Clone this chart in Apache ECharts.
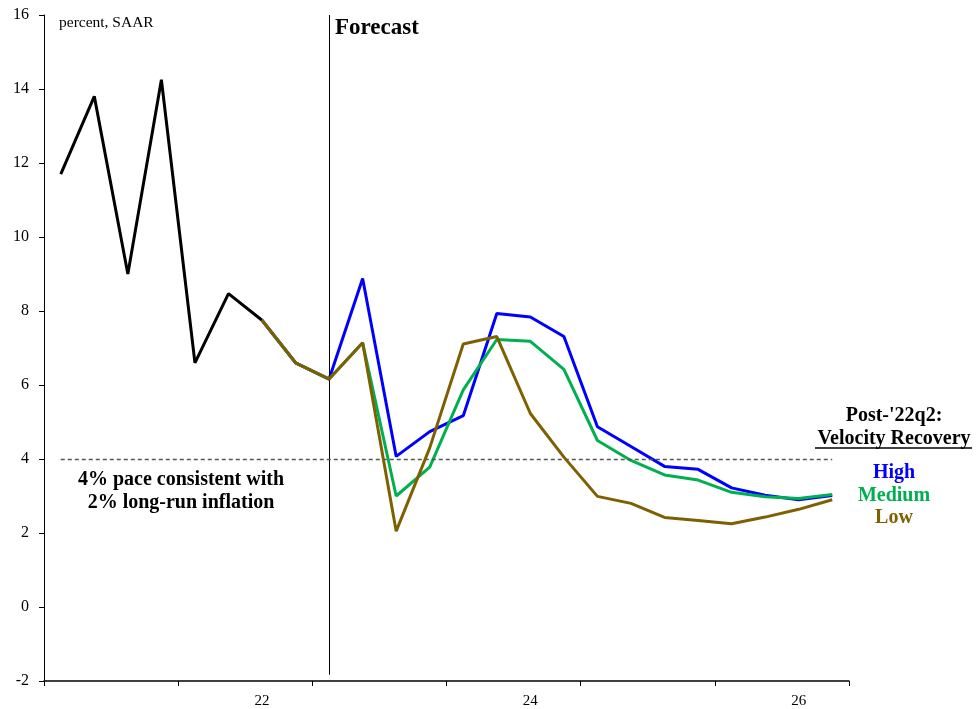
<!DOCTYPE html>
<html>
<head>
<meta charset="utf-8">
<script src="https://cdn.jsdelivr.net/npm/echarts@6/dist/echarts.min.js"></script>
<style>html,body{margin:0;padding:0;background:#fff}#c{width:979px;height:709px}</style>
</head>
<body>
<div id="c"></div>
<script>
var quarters = ['2020Q3','2020Q4','2021Q1','2021Q2','2021Q3','2021Q4','2022Q1','2022Q2','2022Q3','2022Q4',
  '2023Q1','2023Q2','2023Q3','2023Q4','2024Q1','2024Q2','2024Q3','2024Q4','2025Q1','2025Q2','2025Q3','2025Q4','2026Q1','2026Q2'];
var yearLabels = {'2022Q1':'22','2024Q1':'24','2026Q1':'26'};
var actual = [11.7,13.8,9.0,14.25,6.6,8.47,7.75,'-','-','-','-','-','-','-','-','-','-','-','-','-','-','-','-','-'];
var high   = ['-','-','-','-','-','-',7.75,6.6,6.16,8.88,4.07,4.74,5.17,7.93,7.84,7.31,4.87,4.34,3.8,3.72,3.22,3.02,2.9,3.01];
var medium = ['-','-','-','-','-','-',7.75,6.6,6.16,7.14,3.0,3.78,5.87,7.23,7.18,6.42,4.5,3.96,3.57,3.43,3.1,2.98,2.93,3.04];
var low    = ['-','-','-','-','-','-',7.75,6.6,6.16,7.14,2.05,4.3,7.11,7.31,5.23,4.05,2.99,2.8,2.42,2.34,2.25,2.43,2.64,2.9];
var paceLevel = 4;
var forecastStart = '2022Q3';

var serif = 'Liberation Serif';
var chart = echarts.init(document.getElementById('c'));
function label(x, y, text, color) {
  return {type: 'text', x: x, y: y, style: {text: text, fontFamily: serif, fontSize: 20, fontWeight: 'bold', fill: color || '#000', textAlign: 'center', textVerticalAlign: 'middle'}};
}
chart.setOption({
  animation: false,
  backgroundColor: '#fff',
  grid: {left: 44, right: 130, top: 15, bottom: 28},
  xAxis: {
    type: 'category', data: quarters, boundaryGap: true,
    axisLine: {onZero: false, lineStyle: {color: '#000', width: 1.5}},
    axisTick: {show: true, length: 5, lineStyle: {color: '#000'}, interval: function (i) { return i % 4 === 0; }},
    axisLabel: {
      interval: function (i, v) { return !!yearLabels[v]; },
      formatter: function (v) { return yearLabels[v] || ''; },
      color: '#000', fontFamily: serif, fontSize: 15, margin: 13
    },
    splitLine: {show: false}
  },
  yAxis: {
    type: 'value', min: -2, max: 16, interval: 2,
    axisLine: {show: true, lineStyle: {color: '#000', width: 1}},
    axisTick: {show: true, length: 5, lineStyle: {color: '#000'}},
    axisLabel: {color: '#000', fontFamily: serif, fontSize: 16, margin: 15},
    splitLine: {show: false}
  },
  series: [
    {name: 'Actual', type: 'line', data: actual, symbol: 'none', lineStyle: {color: '#000', width: 3}, z: 2,
     markLine: {silent: true, symbol: 'none', label: {show: false}, animation: false,
       data: [
         [{coord: [forecastStart, 16], lineStyle: {color: '#000', width: 1, type: 'solid'}}, {coord: [forecastStart, -1.83]}],
         [{coord: [quarters[0], paceLevel]}, {coord: [quarters[quarters.length - 1], paceLevel]}]
       ],
       lineStyle: {color: '#555', width: 1.4, type: [4, 3]}
     }},
    {name: 'High', type: 'line', data: high, symbol: 'none', lineStyle: {color: '#0000FF', width: 3}, z: 3},
    {name: 'Medium', type: 'line', data: medium, symbol: 'none', lineStyle: {color: '#00B050', width: 3}, z: 4},
    {name: 'Low', type: 'line', data: low, symbol: 'none', lineStyle: {color: '#7F6000', width: 3}, z: 5}
  ],
  graphic: [
    {type: 'text', left: 59, top: 15, style: {text: 'percent, SAAR', fontFamily: serif, fontSize: 15.5, fill: '#000'}},
    {type: 'text', left: 335, top: 17, style: {text: 'Forecast', fontFamily: serif, fontSize: 23, fontWeight: 'bold', fill: '#000'}},
    label(181, 480, '4% pace consistent with'),
    label(181, 503, '2% long-run inflation'),
    label(894, 416, "Post-'22q2:"),
    label(894, 439, 'Velocity Recovery'),
    {type: 'line', shape: {x1: 815, y1: 448, x2: 972, y2: 448}, style: {stroke: '#000', lineWidth: 1.5}},
    label(894, 473, 'High', '#0000FF'),
    label(894, 496, 'Medium', '#00B050'),
    label(894, 518, 'Low', '#7F6000')
  ]
});
</script>
</body>
</html>
